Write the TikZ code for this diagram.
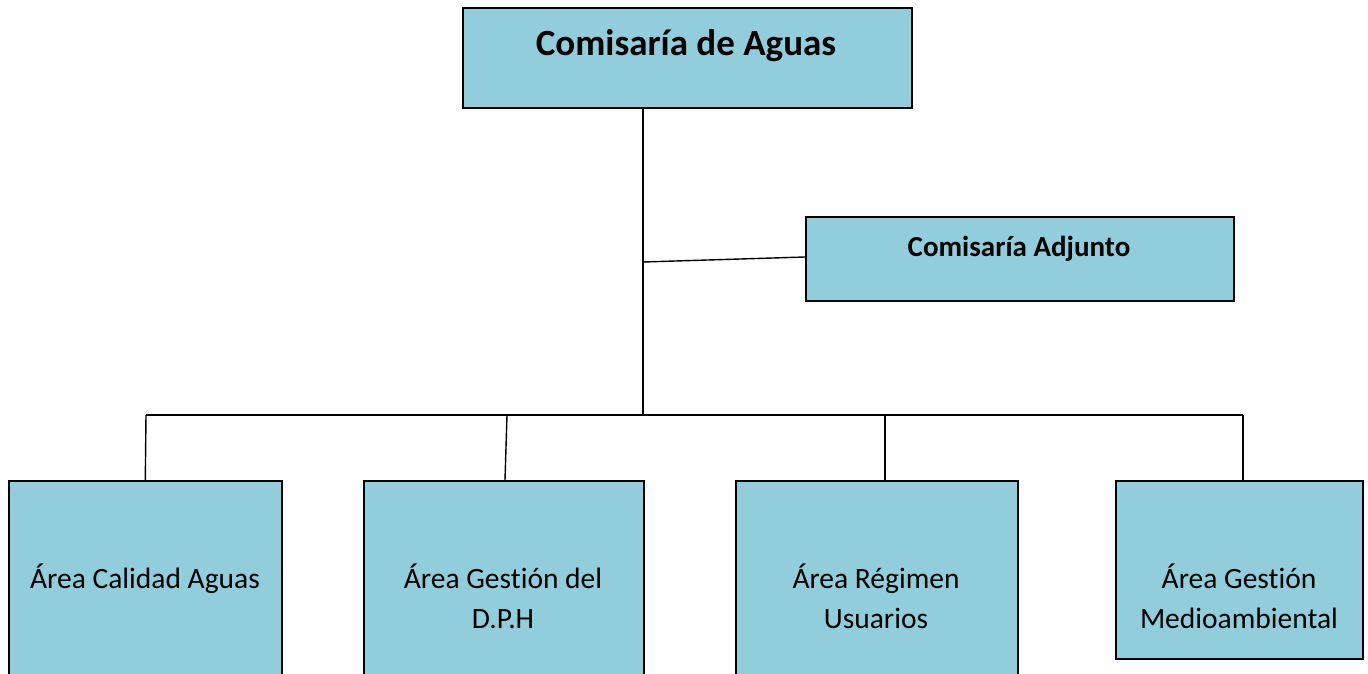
\documentclass[tikz,border=0pt]{standalone}
\usepackage{fontspec}
\setmainfont[Ligatures=NoCommon]{Carlito}
\definecolor{boxfill}{HTML}{92CDDC}
\begin{document}
\begin{tikzpicture}[x=1pt,y=-1pt,
  orgbox/.style={draw=black,line width=1.6pt,fill=boxfill,inner sep=0pt,anchor=north west},
  conn/.style={draw=black,line width=1.4pt},
  lbl/.style={anchor=base,inner sep=0pt,font=\fontsize{29.5}{34}\selectfont},
  blbl/.style={anchor=base,inner sep=0pt,font=\bfseries\fontsize{29}{34}\selectfont}]
\useasboundingbox (0,0) rectangle (1368,674);
\clip (0,0) rectangle (1368,674);
% boxes
\node[orgbox,minimum width=449pt,minimum height=100pt] (top) at (462,7) {};
\node[orgbox,minimum width=428pt,minimum height=84pt] (adj) at (805,216) {};
\node[orgbox,minimum width=273pt,minimum height=220pt] (b1) at (8,480) {};
\node[orgbox,minimum width=280pt,minimum height=220pt] (b2) at (363,480) {};
\node[orgbox,minimum width=282pt,minimum height=220pt] (b3) at (735,480) {};
\node[orgbox,minimum width=247pt,minimum height=178pt] (b4) at (1115,480) {};
% labels
\node[blbl,font=\bfseries\fontsize{37}{42}\selectfont] (ttop) at (686,56) {Comisaría de Aguas};
\node[blbl] (tadj) at (1019,256) {Comisaría Adjunto};
\node[lbl] (t1) at (145,588) {Área Calidad Aguas};
\node[lbl] (t2a) at (503,588) {Área Gestión del};
\node[lbl] (t2b) at (503,628) {D.P.H};
\node[lbl] (t3a) at (876,588) {Área Régimen};
\node[lbl] (t3b) at (876,628) {Usuarios};
\node[lbl] (t4a) at (1239,588) {Área Gestión};
\node[lbl] (t4b) at (1239,628) {Medioambiental};
% connectors
\coordinate (trunk) at (643,415);
\coordinate (jadj) at (643,262);
\coordinate (busL) at (146,415);
\coordinate (busR) at (1243,415);
\coordinate (d2) at (507,415);
\coordinate (d3) at (885,415);
\path[conn] (top.south -| trunk) -- (trunk);
\path[conn] (jadj) -- (adj.west |- 0,257);
\path[conn] (busL) -- (busR);
\path[conn] (busL) -- (143,480 -| b1.north);
\path[conn] (d2) -- (505,480);
\path[conn] (d3) -- (d3 |- b3.north);
\path[conn] (busR) -- (busR |- b4.north);
\end{tikzpicture}
\end{document}
